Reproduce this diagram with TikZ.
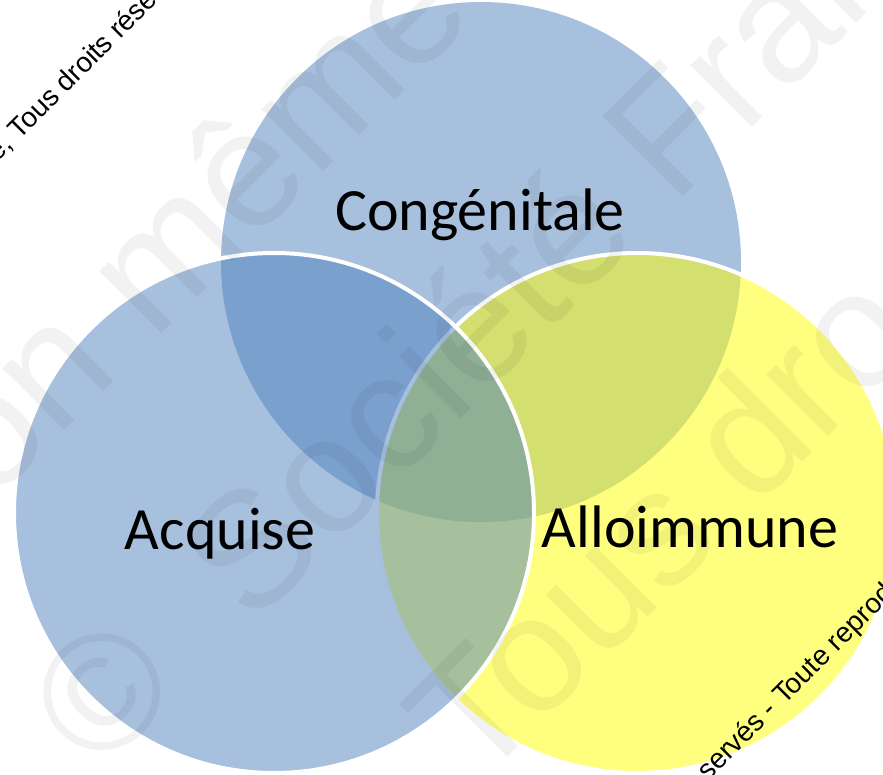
\documentclass[tikz,border=0pt]{standalone}
\usepackage{fontspec}
\setmainfont{Carlito}
\newfontfamily\wmfont{Liberation Sans}
\definecolor{vennblue}{RGB}{79,129,189}
\definecolor{vennyellow}{RGB}{255,255,0}
\begin{document}
\begin{tikzpicture}[x=1pt,y=-1pt,
  ring/.style={circle, minimum size=520pt, inner sep=0pt, fill opacity=0.5},
  ringedge/.style={draw=white, line width=4pt, draw opacity=1},
  lbl/.style={anchor=base, inner sep=0pt, text=black, font=\fontsize{60}{72}\selectfont},
  bigwm/.style={anchor=base west, rotate=45, inner sep=0pt, text=black, text opacity=0.05, font=\wmfont\fontsize{165}{165}\selectfont},
  smallwm/.style={anchor=base west, rotate=45, inner sep=0pt, text=black, font=\wmfont\fontsize{28}{28}\selectfont}]
\useasboundingbox (0,0) rectangle (883,775);
\begin{scope}
\clip (0,0) rectangle (883,775);
\node[ring, fill=vennblue] (top) at (481,262) {};
\node[ring, fill=vennyellow, ringedge] (right) at (637,513) {};
\node[ring, fill=vennblue, ringedge] (left) at (274,513) {};
\node[lbl] (ltop) at (480,231) {Congénitale};
\node[lbl] (lleft) at (220,549) {Acquise};
\node[lbl] (lright) at (690,547) {Alloimmune};
\node[bigwm] (wm1) at (-8.5,503.5) {on même};
\node[bigwm] (wm2) at (252,628) {Société Fran};
\node[bigwm, anchor=center, rotate=0] (wm2c) at (102,692) {©};
\node[bigwm] (wm3) at (477,788) {Tous dro};
\node[smallwm] (sw1) at (-3,163) {e, Tous droits rése};
\node[smallwm] (sw2) at (708,782) {servés - Toute reprod};
\end{scope}
\end{tikzpicture}
\end{document}
